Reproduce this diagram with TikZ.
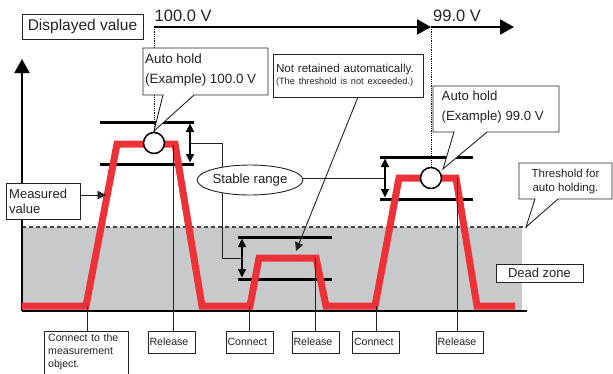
\documentclass[tikz,border=0pt]{standalone}
\usepackage{fontspec}
\setmainfont{Liberation Sans}
\usetikzlibrary{arrows.meta,shapes.geometric}
\definecolor{wave}{RGB}{237,50,55}
\definecolor{zone}{RGB}{200,201,203}
\definecolor{ink}{RGB}{35,35,35}
\newcommand\fsz[2]{\fontsize{#1}{#2}\selectfont}
\begin{document}
\begin{tikzpicture}[x=1pt,y=-1pt,
  box/.style={draw=ink,line width=0.9pt,fill=white,text=ink},
  conn/.style={draw=ink,line width=0.8pt},
  bar/.style={draw=black,line width=3pt},
  span/.style={draw=black,line width=1.2pt,{Triangle[length=8.5pt,width=8pt]}-{Triangle[length=8.5pt,width=8pt]}},
  bigarrow/.style={draw=black,line width=2pt,-{Triangle[length=14pt,width=15pt]}},
  smallarrow/.style={draw=ink,line width=0.9pt,-{Triangle[length=8.5pt,width=8.5pt]}},
  lbl/.style={text=ink,inner sep=0pt,align=left},
  tag/.style={box,minimum width=47pt,minimum height=22pt,text width=44pt,inner xsep=1.5pt,inner ysep=0pt,align=left,font=\fsz{10.6}{13}},
  hold/.style={circle,draw=black,fill=white,line width=1.5pt,minimum size=21pt,inner sep=0pt},
]
\useasboundingbox (0,0) rectangle (613,373);
\clip (0,0) rectangle (613,373);

% dead zone
\fill[zone] (22,227) rectangle (522,311);
\draw[gray!55!black,line width=1.1pt,dash pattern=on 4pt off 3pt] (22,227) -- (527,227);

% axes
\coordinate (origin) at (22,311);
\coordinate (yend) at (22,59);
\coordinate (xend) at (527,311);
\draw[line width=2pt] (origin) -- (xend);
\draw[bigarrow] (origin) -- (yend);

% stable range bars and spans
\draw[bar] (100,122) -- (194,122);
\draw[bar] (100,164) -- (194,164);
\draw[bar] (238,237) -- (332,237);
\draw[bar] (238,279) -- (332,279);
\draw[bar] (380,157) -- (473,157);
\draw[bar] (380,199) -- (473,199);
\draw[span] (190,123.5) -- (190,162.5);
\draw[span] (242,238.5) -- (242,277.5);
\draw[span] (385,158.5) -- (385,197.5);
\coordinate (s1) at (190,143);
\coordinate (s2) at (242,258);
\coordinate (s3) at (385,178);
\draw[conn] (s1) -- (222,143) -- (222,258) -- (s2);
\node[ellipse,box,minimum width=96pt,minimum height=30pt,inner sep=0pt,font=\fsz{13.2}{15}] (sr) at (250,180) {Stable range};
\draw[conn] (s3) -- (s3 -| sr.east);

% measured waveform
\draw[wave,line width=7pt,line join=miter]
  (22,306) -- (86,306) -- (117,144) -- (175,144) -- (202,306) -- (250,306)
  -- (259,258) -- (316,258) -- (326,306) -- (375,306) -- (399,178)
  -- (456,178) -- (477,306) -- (515,306);

% bottom labels
\coordinate (cb1top) at (87,331);
\filldraw[box] (44,331) rectangle (128,395);
\node[lbl,anchor=north west,text width=78pt,font=\fsz{10.6}{13.3}] (cb1) at (48,333.4)
      {Connect to the\\measurement\\object.};
\node[tag] (r1) at (171.5,342) {Release};
\node[tag] (c2) at (249.5,342) {Connect};
\node[tag] (r2) at (315.5,342) {Release};
\node[tag,minimum width=46pt] (c3) at (376,342) {Connect};
\node[tag] (r3) at (459.5,342) {Release};
\coordinate (p1) at (87,306);
\coordinate (p2) at (173,145);
\coordinate (p3) at (249,306);
\coordinate (p4) at (315,258);
\coordinate (p5) at (376,306);
\coordinate (p6) at (457,178);
\draw[conn] (p1) -- (cb1top);
\draw[conn] (p2) -- (p2 |- r1.north);
\draw[conn] (p3) -- (p3 |- c2.north);
\draw[conn] (p4) -- (p4 |- r2.north);
\draw[conn] (p5) -- (p5 |- c3.north);
\draw[conn] (p6) -- (p6 |- r3.north);

% hold points and displayed value timeline
\node[hold] (h1) at (154,143) {};
\node[hold] (h2) at (431,178) {};
\coordinate (t1) at (154,27);
\coordinate (t2) at (431,27);
\coordinate (t3) at (514,27);
\draw[densely dotted,line width=0.8pt] (t1) -- (h1.north);
\draw[densely dotted,line width=0.8pt] (t2) -- (h2.north);
\draw[bigarrow] (t1) -- (t2);
\draw[bigarrow] (t2) -- (t3);
\node[anchor=base west,inner sep=0pt,text=ink,font=\fsz{16.5}{18}] (v1) at (154.5,21.5) {100.0 V};
\node[anchor=base west,inner sep=0pt,text=ink,font=\fsz{16.5}{18}] (v2) at (433,21.5) {99.0 V};
\node[box,minimum width=121pt,minimum height=25pt,inner sep=0pt,font=\fsz{15.5}{18}] (disp) at (82.5,26.5) {Displayed value};

% measured value label
\node[box,minimum width=74pt,minimum height=36pt,text width=69pt,inner xsep=2.5pt,inner ysep=0pt,
      align=left,font=\fsz{13}{15.3}] (mv) at (43.7,201) {Measured\\value};
\coordinate (mvtip) at (106,195);
\draw[smallarrow] (mvtip -| mv.east) -- (mvtip);

% dead zone label
\node[box,minimum width=87pt,minimum height=18pt,inner sep=0pt,font=\fsz{13}{15}] (dz) at (539.5,273) {Dead zone};

% not retained
\node[box,minimum width=149pt,minimum height=43pt,text width=145pt,inner xsep=2.5pt,inner ysep=0pt,
      align=left,font=\fsz{11.6}{12}] (nr) at (348.5,75.5)
      {Not retained automatically.\\{\fsz{9.2}{12}(The threshold is not exceeded.)}};
\coordinate (nrfoot) at (358,97);
\coordinate (nrtip) at (296,251);
\draw[smallarrow] (nrfoot) -- (nrtip);

% callouts
\filldraw[box] (143,48) -- (268,48) -- (268,95) -- (194,95) -- (154,131) -- (163,95) -- (143,95) -- cycle;
\node[lbl,anchor=north west,font=\fsz{13.4}{20}] (ah1) at (145,53.4) {Auto hold\\(Example) 100.0 V};
\filldraw[box] (433,86) -- (559,86) -- (559,132) -- (487,132) -- (443,169) -- (454,132) -- (433,132) -- cycle;
\node[lbl,anchor=north west,font=\fsz{13.2}{20}] (ah2) at (441.5,90.5) {Auto hold\\(Example) 99.0 V};
\filldraw[box] (519,163) -- (612,163) -- (612,199) -- (558,199) -- (526,227) -- (535,199) -- (519,199) -- cycle;
\node[lbl,anchor=north,align=center,font=\fsz{11.5}{14}] (thr) at (565.5,168.8) {Threshold for\\auto holding.};
\end{tikzpicture}
\end{document}
